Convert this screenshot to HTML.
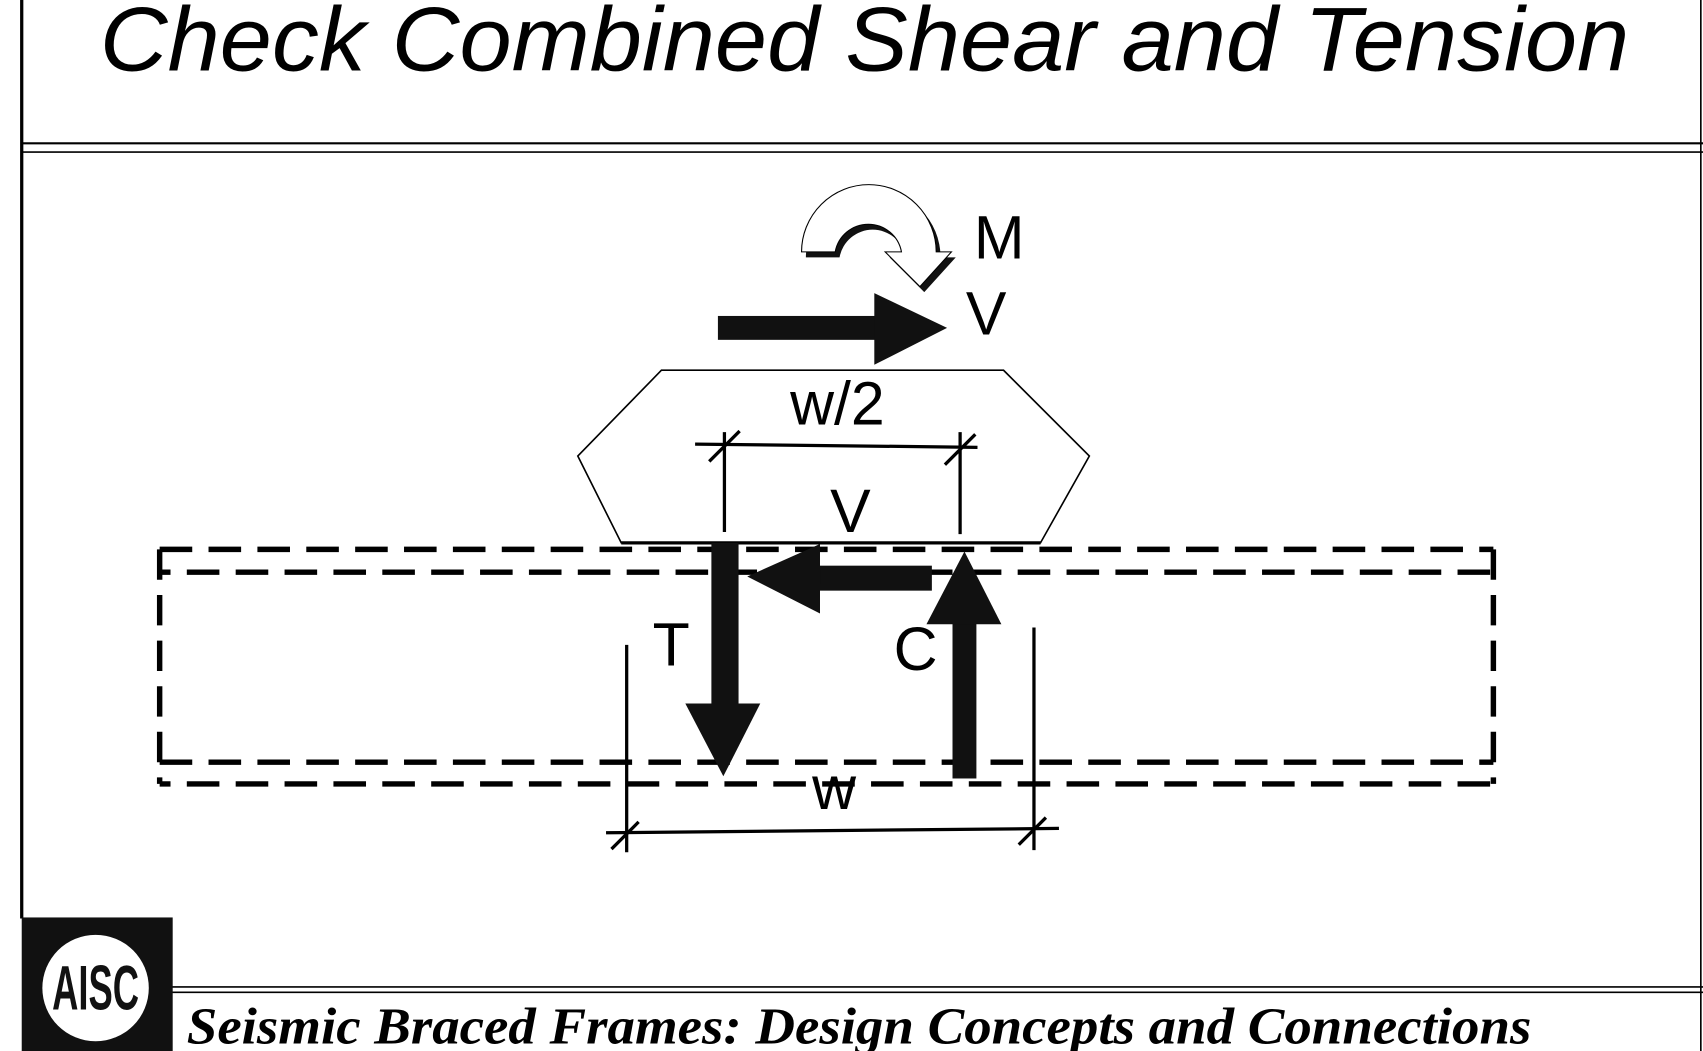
<!DOCTYPE html>
<html><head><meta charset="utf-8"><style>
html,body{margin:0;padding:0;background:#fff;}
svg{display:block;}
</style></head><body>
<svg width="1703" height="1051" viewBox="0 0 1568 968" preserveAspectRatio="none" xmlns="http://www.w3.org/2000/svg">
<rect width="1568" height="968" fill="#fff"/>
<!-- frame -->
<line x1="20" y1="0" x2="20" y2="846" stroke="#000" stroke-width="3"/>
<line x1="1566" y1="0" x2="1566" y2="968" stroke="#000" stroke-width="1.5"/>
<line x1="20" y1="132" x2="1568" y2="132" stroke="#000" stroke-width="2"/>
<line x1="20" y1="140" x2="1568" y2="140" stroke="#000" stroke-width="1.5"/>
<line x1="158" y1="909" x2="1568" y2="909" stroke="#000" stroke-width="1.5"/>
<line x1="158" y1="914" x2="1568" y2="914" stroke="#000" stroke-width="1.5"/>
<text x="92" y="65" font-family="Liberation Sans, sans-serif" font-style="italic" font-size="84" fill="#000" textLength="1408" lengthAdjust="spacingAndGlyphs">Check Combined Shear and Tension</text>
<!-- logo -->
<rect x="20" y="845" width="139" height="123" fill="#111"/>
<circle cx="88" cy="910" r="49" fill="#fff"/>
<text x="88" y="930" font-family="Liberation Sans Narrow, Liberation Sans, sans-serif" font-weight="bold" font-size="58" text-anchor="middle" fill="#111" textLength="80" lengthAdjust="spacingAndGlyphs">AISC</text>
<text x="172" y="961" font-family="Liberation Serif, serif" font-style="italic" font-weight="bold" font-size="48" fill="#000" textLength="1238" lengthAdjust="spacingAndGlyphs">Seismic Braced Frames: Design Concepts and Connections</text>
<!-- gusset -->
<polygon points="609,341 924,341 1003,420 958,500 572,500 532,420" fill="#fff" stroke="#000" stroke-width="1.5"/>
<line x1="572" y1="500" x2="958" y2="500" stroke="#000" stroke-width="3"/>
<!-- dashed lines -->
<g fill="none" stroke="#000" stroke-width="5" stroke-dasharray="30,15">
<line x1="147" y1="506" x2="1375" y2="506"/>
<line x1="147" y1="527" x2="1375" y2="527" stroke-dashoffset="20"/>
<line x1="147" y1="702" x2="1375" y2="702"/>
<line x1="147" y1="722" x2="1375" y2="722" stroke-dashoffset="20"/>
<line x1="147" y1="506" x2="147" y2="722" stroke-dasharray="28,14"/>
<line x1="1375" y1="506" x2="1375" y2="722" stroke-dasharray="28,14"/>
</g>
<!-- dimensions -->
<g stroke="#000" stroke-width="3">
<line x1="640" y1="409" x2="900" y2="412"/>
<line x1="667" y1="398" x2="667" y2="490"/>
<line x1="884" y1="398" x2="884" y2="492"/>
<line x1="653" y1="425" x2="681" y2="397"/>
<line x1="870" y1="428" x2="898" y2="400"/>
<line x1="558" y1="767" x2="975" y2="763"/>
<line x1="577" y1="594" x2="577" y2="785"/>
<line x1="952" y1="578" x2="952" y2="783"/>
<line x1="563" y1="782" x2="588" y2="757"/>
<line x1="938" y1="778" x2="963" y2="753"/>
</g>
<!-- T arrow -->
<rect x="655" y="500" width="25" height="150" fill="#111"/>
<polygon points="631,648 700,648 666,715" fill="#111"/>
<!-- C arrow -->
<rect x="877" y="572" width="22" height="145" fill="#111"/>
<polygon points="853,575 922,575 888,508" fill="#111"/>
<!-- V bottom arrow -->
<rect x="750" y="521" width="108" height="23" fill="#111"/>
<polygon points="688,531 755,501 755,565" fill="#111"/>
<!-- V top arrow -->
<rect x="661" y="291" width="146" height="22" fill="#111"/>
<polygon points="805,270 872,302 805,336" fill="#111"/>
<!-- moment -->
<path d="M742,237 A62,62 0 0 1 866,237 L880,237 L851,269 L819,237 L834,237 A31,31 0 0 0 773,237 Z" fill="#111"/>
<path d="M738,232 A62,62 0 0 1 862,232 L876,232 L847,264 L815,232 L830,232 A31,31 0 0 0 769,232 Z" fill="#fff" stroke="#000" stroke-width="1"/>
<!-- labels -->
<g font-family="Liberation Sans, sans-serif" font-size="56" fill="#000" text-anchor="middle">
<text x="920" y="238">M</text>
<text x="908" y="308">V</text>
<text x="771" y="391">w/2</text>
<text x="783" y="490">V</text>
<text x="618" y="613">T</text>
<text x="843" y="617">C</text>
<text x="768" y="745">w</text>
</g>
</svg>
</body></html>
